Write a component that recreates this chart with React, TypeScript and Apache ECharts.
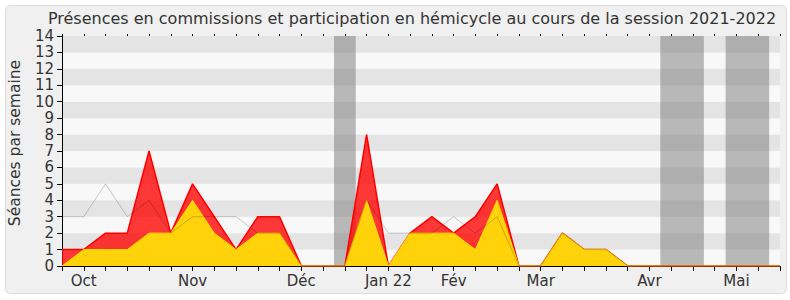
import React, { useEffect, useRef } from "react";
import * as echarts from "echarts";

const TITLE = "Présences en commissions et participation en hémicycle au cours de la session 2021-2022";
const Y_NAME = "Séances par semaine";

// weekly values (34 weeks), index 0 = last week of September 2021
const commissions = [1, 1, 2, 2, 7, 2, 5, 3, 1, 3, 3, 0, 0, 0, 8, 0, 2, 3, 2, 3, 5, 0, 0, 2, 1, 1, 0, 0, 0, 0, 0, 0, 0, 0];
const hemicycle = [0, 1, 1, 1, 2, 2, 4, 2, 1, 2, 2, 0, 0, 0, 4, 0, 2, 2, 2, 1, 4, 0, 0, 2, 1, 1, 0, 0, 0, 0, 0, 0, 0, 0];
const median = [3, 3, 5, 3, 4, 2, 3, 3, 3, 2, 2, 0, 0, 0, 4, 2, 2, 2, 3, 2, 3, 0, 0, 2, 1, 1, 0, 0, 0, 0, 0, 0, 0, 0];

// month labels at week index
const monthIdx = [1, 6, 11, 15, 18, 22, 27, 31];
const monthLbl = ["Oct", "Nov", "Déc", "Jan 22", "Fév", "Mar", "Avr", "Mai"];

// holiday bands (week index ranges)
const holidayStart = [12.5, 27.5, 30.5];
const holidayEnd = [13.5, 29.5, 32.5];

const FONT = "DejaVu Sans";

export default function App() {
  const ref = useRef<HTMLDivElement>(null);
  useEffect(() => {
    if (!ref.current) return;
    const chart = echarts.init(ref.current, null, { renderer: "svg" });
    const toPairs = (arr: number[]) => arr.map((v, i) => [i, v]);
    const labelMap: Record<number, string> = {};
    monthIdx.forEach((m, i) => (labelMap[m] = monthLbl[i]));
    const n = commissions.length - 1;
    chart.setOption({
      animation: false,
      graphic: [
        {
          type: "rect",
          z: -100,
          silent: true,
          shape: { x: 5.5, y: 5.5, width: 781, height: 288, r: 5 },
          style: { fill: "#f0f0f0", stroke: "#dcdcdc", lineWidth: 1 },
        },
        {
          type: "text",
          x: 412,
          y: 18,
          style: {
            text: TITLE,
            font: `16px "${FONT}"`,
            fill: "#333333",
            textAlign: "center",
            textVerticalAlign: "middle",
          },
        },
        {
          type: "text",
          x: 15,
          y: 143,
          rotation: Math.PI / 2,
          style: {
            text: Y_NAME,
            font: `15.5px "${FONT}"`,
            fill: "#333333",
            textAlign: "center",
            textVerticalAlign: "middle",
          },
        },
      ],
      grid: { left: 62, right: 10, top: 36, bottom: 34 },
      xAxis: [
        {
          type: "value",
          min: 0,
          max: n,
          interval: 1,
          axisLine: { show: true, lineStyle: { color: "#000000", width: 1 } },
          axisTick: { show: true, length: 5, lineStyle: { color: "#000000" } },
          axisLabel: {
            show: true,
            margin: 7,
            fontFamily: FONT,
            fontSize: 15,
            color: "#333333",
            formatter: (v: number) => labelMap[v] ?? "",
          },
          splitLine: { show: false },
        },
        {
          type: "value",
          position: "top",
          min: 0,
          max: n,
          interval: 1,
          axisLine: { show: false },
          axisTick: { show: true, length: 2, lineStyle: { color: "#000000" } },
          axisLabel: { show: false },
          splitLine: { show: false },
        },
      ],
      yAxis: {
        type: "value",
        min: 0,
        max: 14,
        interval: 1,
        axisLine: { show: true, lineStyle: { color: "#000000" } },
        axisTick: { show: true, length: 5, lineStyle: { color: "#000000" } },
        axisLabel: { margin: 8, fontFamily: FONT, fontSize: 15, lineHeight: 15, color: "#333333" },
        splitLine: { show: false },
        splitArea: { show: true, areaStyle: { color: ["#f8f8f8", "#e4e4e4"] } },
      },
      series: [
        {
          type: "line",
          name: "holidays",
          data: [],
          markArea: {
            silent: true,
            itemStyle: { color: "rgba(120,120,120,0.5)" },
            data: holidayStart.map((s, i) => [{ xAxis: s }, { xAxis: holidayEnd[i] }]),
          },
        },
        {
          type: "line",
          name: "Commissions",
          data: toPairs(commissions),
          symbol: "none",
          lineStyle: { color: "#ff0000", width: 1.5 },
          areaStyle: { color: "rgba(255,0,0,0.78)", opacity: 1 },
          z: 3,
        },
        {
          type: "line",
          name: "Hémicycle",
          data: toPairs(hemicycle),
          symbol: "none",
          lineStyle: { color: "#ffdd00", width: 1 },
          areaStyle: { color: "#ffd20a", opacity: 1 },
          z: 4,
        },
        {
          type: "line",
          name: "Médiane",
          data: toPairs(median),
          symbol: "none",
          lineStyle: { color: "rgba(0,0,0,0.2)", width: 1 },
          z: 5,
        },
      ],
    });
    return () => chart.dispose();
  }, []);
  return (
    <div
      ref={ref}
      style={{ position: "fixed", left: 0, top: 0, width: 790, height: 300, background: "#ffffff" }}
    />
  );
}
